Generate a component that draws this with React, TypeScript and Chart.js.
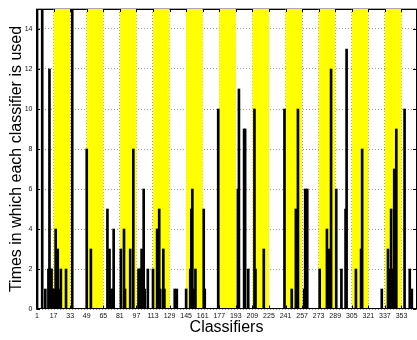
import React, { useEffect, useRef } from 'react';
import { Chart, registerables } from 'chart.js';

Chart.register(...registerables);

// Classifier index (1..368) and number of times it is used (only non-zero ones)
const classifierIds = [
  1, 6, 9, 12, 13, 14, 15, 16, 17, 19, 21, 22, 24, 29, 35,
  49, 53, 69, 71, 72, 74, 75, 82, 85, 86, 91, 94,
  99, 100, 101, 102, 104, 105, 108, 113, 117, 119, 120, 123, 124,
  134, 136, 145, 149, 150, 151, 152, 154, 162, 163, 176,
  195, 196, 201, 202, 205, 211, 212, 220, 240, 247, 251, 253,
  259, 260, 261, 262, 274, 281, 283, 285, 290, 295, 299, 300,
  309, 314, 315, 334, 340, 342, 343, 345, 346, 348, 356, 361, 363,
];
const timesUsed = [
  15, 15, 1, 2, 12, 2, 2, 1, 1, 4, 3, 1, 2, 2, 15,
  8, 3, 5, 3, 1, 1, 4, 3, 4, 1, 3, 8,
  2, 2, 2, 3, 6, 1, 2, 2, 4, 5, 1, 3, 1,
  1, 1, 1, 2, 5, 6, 1, 2, 5, 1, 10,
  6, 11, 9, 9, 2, 10, 2, 3, 10, 1, 5, 10,
  1, 6, 2, 6, 2, 4, 3, 12, 6, 2, 5, 13,
  2, 3, 8, 1, 3, 2, 5, 2, 7, 9, 10, 2, 1,
];

// Yellow highlighted groups of classifiers
const bandStarts = [17, 49, 81, 113, 145, 177, 209, 241, 273, 305, 337];
const bandEnds = [33, 65, 97, 129, 161, 193, 225, 257, 289, 321, 353];

// Axis ticks
const xTickValues = [1, 17, 33, 49, 65, 81, 97, 113, 129, 145, 161, 177, 193, 209, 225, 241, 257, 273, 289, 305, 321, 337, 353];
const yTickValues = [0, 2, 4, 6, 8, 10, 12, 14];
const xMin = 0;
const xMax = 368;
const yMin = 0;
const yMax = 15;

const FONT = '"Liberation Sans", Arial, Helvetica, sans-serif';

const boxPlugin = {
  id: 'matlabBox',
  beforeDatasetsDraw(chart: any) {
    const { ctx, chartArea: a, scales } = chart;
    const xs = scales.x;
    const ys = scales.y;
    ctx.save();
    // top box line (under the yellow patches)
    ctx.strokeStyle = '#000';
    ctx.lineWidth = 1;
    ctx.beginPath();
    ctx.moveTo(a.left, Math.round(a.top) + 0.5);
    ctx.lineTo(a.right, Math.round(a.top) + 0.5);
    ctx.stroke();
    // yellow bands
    ctx.fillStyle = '#ffff00';
    const top = ys.getPixelForValue(yMax);
    const bottom = ys.getPixelForValue(yMin);
    bandStarts.forEach((s, i) => {
      const l = xs.getPixelForValue(s);
      const r = xs.getPixelForValue(bandEnds[i]);
      ctx.fillRect(l, top, r - l, bottom - top);
    });
    ctx.restore();
  },
  afterDatasetsDraw(chart: any) {
    const { ctx, chartArea: a, scales } = chart;
    const xs = scales.x;
    const ys = scales.y;
    ctx.save();
    ctx.strokeStyle = '#000';
    ctx.lineWidth = 1;
    ctx.beginPath();
    const L = Math.round(a.left) + 0.5;
    const R = Math.round(a.right) - 0.5;
    const B = Math.round(a.bottom) - 0.5;
    ctx.moveTo(L, a.top);
    ctx.lineTo(L, a.bottom);
    ctx.moveTo(a.left, B);
    ctx.lineTo(a.right, B);
    ctx.moveTo(R, a.top);
    ctx.lineTo(R, a.bottom);
    yTickValues.forEach((v) => {
      const py = Math.round(ys.getPixelForValue(v)) + 0.5;
      ctx.moveTo(L, py);
      ctx.lineTo(L + 3.5, py);
      ctx.moveTo(R, py);
      ctx.lineTo(R - 3.5, py);
    });
    xTickValues.forEach((v) => {
      const px = Math.round(xs.getPixelForValue(v)) + 0.5;
      ctx.moveTo(px, B);
      ctx.lineTo(px, B - 3);
      ctx.moveTo(px, a.top);
      ctx.lineTo(px, a.top + 3);
    });
    ctx.stroke();
    ctx.strokeStyle = '#aaaaaa';
    ctx.beginPath();
    ctx.moveTo(a.left, Math.round(a.top) - 0.5);
    ctx.lineTo(a.right, Math.round(a.top) - 0.5);
    ctx.stroke();
    ctx.restore();
  },
};

export default function App() {
  const ref = useRef<HTMLCanvasElement>(null);

  useEffect(() => {
    if (!ref.current) return;
    const chart = new Chart(ref.current, {
      type: 'bar',
      data: {
        datasets: [
          {
            label: 'Times used',
            data: classifierIds.map((c, i) => ({ x: c, y: timesUsed[i] })),
            backgroundColor: '#000000',
            borderWidth: 0,
            barThickness: 2,
          },
        ],
      },
      options: {
        responsive: false,
        devicePixelRatio: 1,
        animation: false,
        layout: { padding: { top: 9, right: 0, left: 0, bottom: 0 } },
        plugins: {
          legend: { display: false },
          tooltip: { enabled: false },
        },
        scales: {
          x: {
            type: 'linear',
            min: xMin,
            max: xMax,
            offset: false,
            afterBuildTicks: (s: any) => {
              s.ticks = xTickValues.map((v) => ({ value: v }));
            },
            afterFit: (s: any) => {
              s.height = 31;
            },
            grid: {
              display: true,
              offset: false,
              drawTicks: false,
              color: '#9a9a9a',
              lineWidth: 1,
            },
            border: { display: false, dash: [1, 2] },
            ticks: {
              autoSkip: false,
              maxRotation: 0,
              minRotation: 0,
              padding: 3,
              color: '#111',
              font: { family: FONT, size: 7 },
              callback: (v: any) => String(v),
            },
            title: {
              display: true,
              text: 'Classifiers',
              color: '#000',
              font: { family: FONT, size: 16 },
              padding: { top: 0, bottom: 3 },
            },
          },
          y: {
            type: 'linear',
            min: yMin,
            max: yMax,
            afterBuildTicks: (s: any) => {
              s.ticks = yTickValues.map((v) => ({ value: v }));
            },
            afterFit: (s: any) => {
              s.width = 36;
            },
            grid: {
              display: true,
              drawTicks: false,
              color: '#9a9a9a',
              lineWidth: 1,
            },
            border: { display: false, dash: [1, 2] },
            ticks: {
              padding: 3.5,
              color: '#111',
              font: { family: FONT, size: 7 },
            },
            title: {
              display: true,
              text: 'Times in which each classifier is used',
              color: '#000',
              font: { family: FONT, size: 16 },
              padding: { top: 7, bottom: 0 },
            },
          },
        },
      },
      plugins: [boxPlugin],
    } as any);
    return () => chart.destroy();
  }, []);

  return (
    <div style={{ position: 'absolute', left: 0, top: 0, width: 417, height: 340, background: '#fff' }}>
      <canvas ref={ref} width={417} height={340} style={{ display: 'block', width: 417, height: 340 }} />
    </div>
  );
}
